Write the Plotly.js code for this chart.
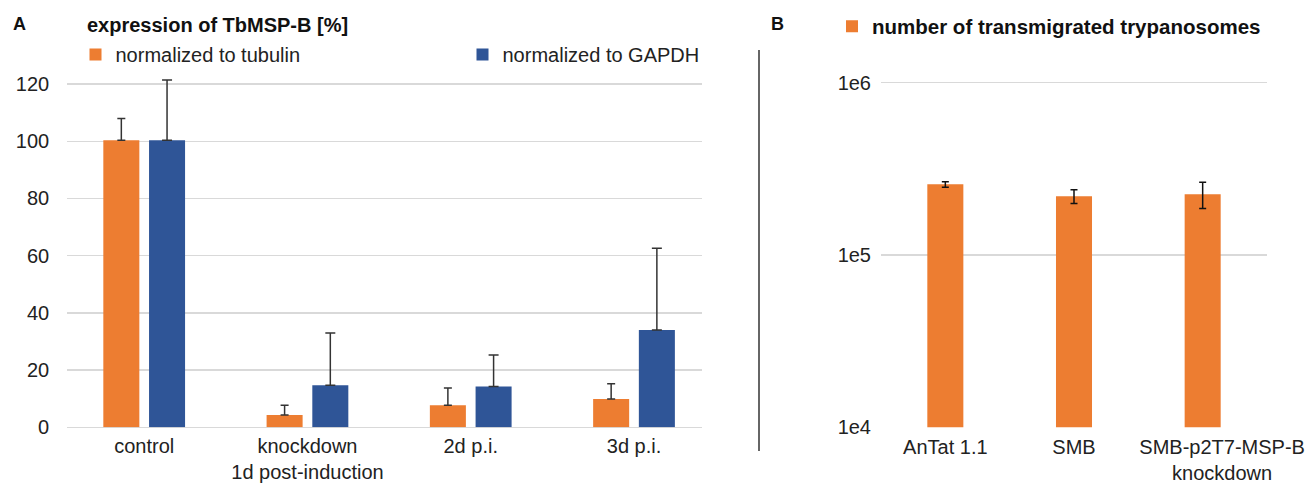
<!DOCTYPE html>
<html>
<head>
<meta charset="utf-8">
<script src="https://cdn.plot.ly/plotly-3.0.1.min.js"></script>
<style>html,body{margin:0;padding:0;background:#fff;}#chart{width:1305px;height:483px;}</style>
</head>
<body>
<div id="chart"></div>
<script>
// ---- Panel A data ----
var categoriesA = ['control', 'knockdown<br>1d post-induction', '2d p.i.', '3d p.i.'];
var tubulinValues = [100.3, 4.3, 7.7, 9.9];
var tubulinErrors = [7.6, 3.4, 6.0, 5.3];
var gapdhValues = [100.3, 14.7, 14.3, 34.0];
var gapdhErrors = [21.1, 18.3, 11.0, 28.6];
var ticksA = [0, 20, 40, 60, 80, 100, 120];

// ---- Panel B data ----
var categoriesB = ['AnTat 1.1', 'SMB', '\u00a0\u00a0\u00a0\u00a0\u00a0\u00a0\u00a0SMB-p2T7-MSP-B<br>\u00a0\u00a0\u00a0\u00a0\u00a0\u00a0\u00a0knockdown'];
var transmigrated = [257000, 219000, 225000];
var transmigratedErrors = [9500, 20000, 39000];
var ticksB = [1e4, 1e5, 1e6];
var tickTextB = ['1e4', '1e5', '1e6'];

var orange = '#ED7D31', blue = '#2F5597';
var FONT = 'Liberation Sans, Arial, sans-serif';
var W = 1305, H = 483;
function px(x) { return x / W; }
function py(y) { return (H - y) / H; }

var zeros = tubulinValues.map(function () { return 0; });

var traces = [
  {
    type: 'bar', name: 'normalized to tubulin', x: categoriesA, y: tubulinValues,
    xaxis: 'x', yaxis: 'y', marker: { color: orange }, legend: 'legend', showlegend: true,
    error_y: { type: 'data', symmetric: false, array: tubulinErrors, arrayminus: zeros,
      color: '#333', thickness: 1.5, width: 4 },
    hoverinfo: 'y'
  },
  {
    type: 'bar', name: 'normalized to GAPDH', x: categoriesA, y: gapdhValues,
    xaxis: 'x', yaxis: 'y', marker: { color: blue }, legend: 'legend2', showlegend: true,
    error_y: { type: 'data', symmetric: false, array: gapdhErrors, arrayminus: zeros,
      color: '#333', thickness: 1.5, width: 5 },
    hoverinfo: 'y'
  },
  {
    type: 'bar', name: '<b>number of transmigrated trypanosomes</b>', x: categoriesB, y: transmigrated,
    xaxis: 'x2', yaxis: 'y2', width: 0.28, marker: { color: orange }, legend: 'legend3', showlegend: true,
    error_y: { type: 'data', array: transmigratedErrors, color: '#111', thickness: 1.5, width: 3.5 },
    hoverinfo: 'y'
  }
];

var gridColor = '#d9d9d9';
var tickFont = { family: FONT, size: 20, color: '#222' };
var legFont = { family: FONT, size: 20, color: '#222' };

var layout = {
  width: W, height: H,
  margin: { l: 0, r: 0, t: 0, b: 0 },
  paper_bgcolor: '#fff', plot_bgcolor: 'rgba(0,0,0,0)',
  font: { family: FONT, color: '#222' },
  showlegend: true,
  barmode: 'group', bargap: 0.44, bargroupgap: 0.212,
  title: {
    text: '<b>expression of TbMSP-B [%]</b>',
    font: { family: FONT, size: 20, color: '#111' },
    xref: 'paper', yref: 'paper', x: px(87), y: py(25), xanchor: 'left', yanchor: 'middle'
  },
  xaxis: {
    domain: [px(66.7), px(701.7)], anchor: 'y', type: 'category',
    range: [-0.4746, 3.4146], showgrid: false, zeroline: false, showline: false,
    ticks: 'outside', ticklen: 1, tickcolor: 'rgba(0,0,0,0)', tickfont: tickFont
  },
  yaxis: {
    domain: [py(427.3), py(72.5)], anchor: 'x', range: [0, 124],
    tickvals: ticksA, showgrid: true, gridcolor: gridColor, gridwidth: 1.3,
    zeroline: true, zerolinecolor: gridColor, zerolinewidth: 1.5, showline: false,
    ticks: 'outside', ticklen: 12.5, tickcolor: 'rgba(0,0,0,0)', tickfont: tickFont
  },
  xaxis2: {
    domain: [px(881), px(1267)], anchor: 'y2', type: 'category',
    range: [-0.5, 2.5], showgrid: false, zeroline: false, showline: false,
    ticks: 'outside', ticklen: 2, tickcolor: 'rgba(0,0,0,0)', tickfont: tickFont
  },
  yaxis2: {
    domain: [py(427.3), py(77.5)], anchor: 'x2', type: 'log', range: [4, 6.03],
    tickvals: ticksB, ticktext: tickTextB, showgrid: true, gridcolor: gridColor, gridwidth: 1.3,
    showline: false, ticks: 'outside', ticklen: 5, tickcolor: 'rgba(0,0,0,0)', tickfont: tickFont
  },
  legend: {
    visible: true,
    x: px(75.5), y: py(54.5), xanchor: 'left', yanchor: 'middle', orientation: 'h',
    bgcolor: 'rgba(0,0,0,0)', borderwidth: 0, font: legFont
  },
  legend2: {
    visible: true,
    x: px(462.5), y: py(54.5), xanchor: 'left', yanchor: 'middle', orientation: 'h',
    bgcolor: 'rgba(0,0,0,0)', borderwidth: 0, font: legFont
  },
  legend3: {
    visible: true,
    x: px(832), y: py(26.5), xanchor: 'left', yanchor: 'middle', orientation: 'h',
    bgcolor: 'rgba(0,0,0,0)', borderwidth: 0, font: { family: FONT, size: 20.5, color: '#111' }
  },
  annotations: [
    { text: '<b>A</b>', xref: 'paper', yref: 'paper', x: px(11), y: py(24), xanchor: 'left', yanchor: 'middle',
      showarrow: false, font: { family: FONT, size: 18, color: '#111' } },
    { text: '<b>B</b>', xref: 'paper', yref: 'paper', x: px(768.5), y: py(24), xanchor: 'left', yanchor: 'middle',
      showarrow: false, font: { family: FONT, size: 18, color: '#111' } }
  ],
  shapes: [
    { type: 'line', xref: 'paper', yref: 'paper', x0: px(759), x1: px(759), y0: py(50), y1: py(451),
      line: { color: '#333', width: 1.5 } }
  ]
};

Plotly.newPlot('chart', traces, layout, { displayModeBar: false, staticPlot: true });
</script>
</body>
</html>
